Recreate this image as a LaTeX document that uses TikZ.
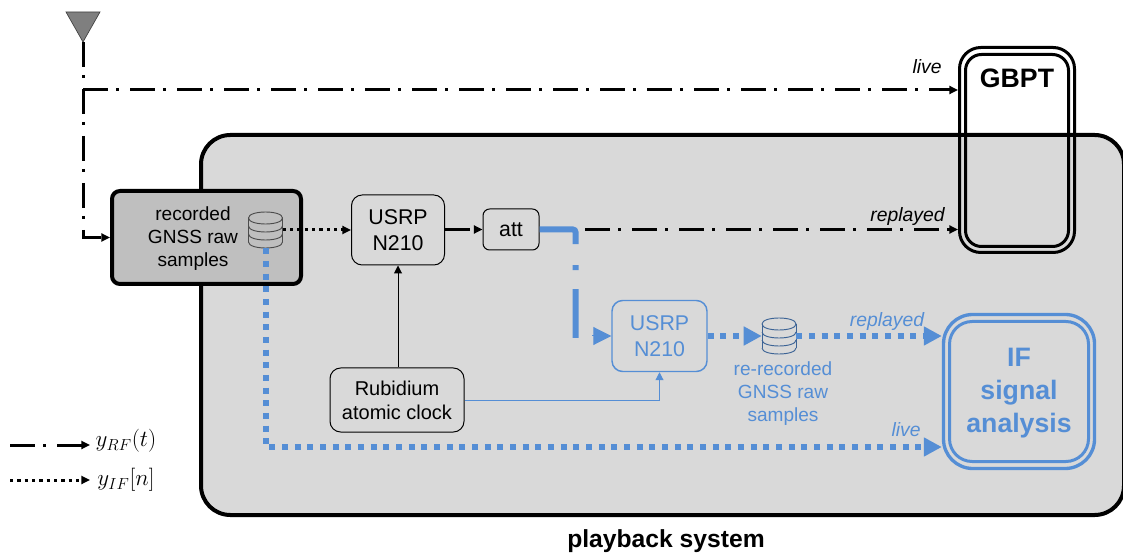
\documentclass[tikz,border=0pt]{standalone}
\usepackage{amsmath}
\usepackage{fontspec}
\usepackage{xcolor}
\usepackage{tikz}
\usetikzlibrary{arrows.meta}
\setmainfont{Liberation Sans}
\definecolor{sigblue}{HTML}{558ED5}
\definecolor{panelgray}{HTML}{D9D9D9}
\definecolor{storegray}{HTML}{BFBFBF}
\definecolor{antgray}{HTML}{7F7F7F}
\newcommand{\px}{0.75pt}
\tikzset{
    % Boxes
    panel/.style={rectangle, draw, line width=3pt, fill=panelgray, rounded corners=22pt, minimum width=923*\px, minimum height=380*\px},
    store/.style={rectangle, draw, line width=3pt, fill=storegray, rounded corners=6pt, align=center, minimum width=189*\px, minimum height=93*\px},
    device/.style={rectangle, draw, line width=0.75pt, fill=panelgray, align=center, font=\fontsize{16}{20}\selectfont},
    clock/.style={device, rounded corners=8pt, font=\fontsize{15}{18}\selectfont},
    sink/.style={rectangle, draw, line width=2.25pt, inner sep=0pt},
    % Text styles
    plain/.style={font=\fontsize{14.3}{17.25}\selectfont, align=center, inner sep=0pt},
    tag/.style={font=\fontsize{14.5}{17}\selectfont\itshape, inner sep=0pt},
    % Database icon
    dbnode/.style={rectangle, minimum width=34*\px, minimum height=36*\px, inner sep=0pt},
    database/.pic={
        \draw[line width=0.7pt, draw=#1] (-17,-12) -- (-17,12) (17,-12) -- (17,12);
        \draw[line width=0.7pt, draw=#1] (-17,-12) .. controls (-17,-20) and (17,-20) .. (17,-12);
        \foreach \y in {-12,-4,4,12} {
            \draw[line width=0.7pt, draw=#1] (-17,\y) .. controls (-17,\y+8) and (17,\y+8) .. (17,\y);
        }
    },
    % Connector styles
    rfline/.style={line width=2.25pt, dash pattern=on 18.75pt off 6pt on 2.5pt off 8pt, -{Triangle[length=6.5pt, width=6pt]}},
    ifline/.style={line width=2.25pt, dash pattern=on 2.5pt off 3pt, -{Triangle[length=6.5pt, width=6pt]}},
    blueif/.style={line width=4.5pt, sigblue, dash pattern=on 4.5pt off 5pt, -{Triangle[length=13.5pt, width=13.5pt]}},
    thinline/.style={line width=0.75pt, -{Triangle[length=6pt, width=6pt]}}
}
\begin{document}
\begin{tikzpicture}[x=0.75pt, y=-0.75pt]
\useasboundingbox (0,0) rectangle (1123,555);

% Playback system
\node[panel] (playback) at (662.5,325) {};
\node[font=\fontsize{18.5}{22}\selectfont\bfseries] (playname) at (666,541) {playback system};

% Antenna
\coordinate (ant) at (83,42);
\draw[line width=0.5pt, draw=black!75, fill=antgray] (66,12) -- (100,12) -- (ant) -- cycle;

% Recorded samples
\node[store] (recorded) at (206.5,237.5) {};
\node[plain] (rectext) at (193,239) {recorded\\GNSS raw\\samples};
\node[dbnode] (dbrec) at (265.5,230) {};
\pic at (dbrec.center) {database={black!70}};

% Devices
\node[device, rounded corners=8pt, minimum width=93*\px, minimum height=70*\px] (usrp) at (398,230) {USRP\\N210};
\node[device, rounded corners=5pt, minimum width=56*\px, minimum height=41*\px] (att) at (511,229.5) {att};
\node[clock, minimum width=134*\px, minimum height=64*\px] (rubidium) at (397,400) {Rubidium\\atomic clock};
\node[device, draw=sigblue, line width=1.1pt, text=sigblue, rounded corners=8pt, minimum width=95*\px, minimum height=71*\px] (usrpif) at (659.5,336) {USRP\\N210};
\node[dbnode] (dbif) at (779,336) {};
\pic at (dbif.center) {database={sigblue!70!black}};
\node[plain, text=sigblue] (rerec) at (783,394) {re-recorded\\GNSS raw\\samples};

% GBPT
\node[sink, rounded corners=16pt, minimum width=115*\px, minimum height=205*\px] (gbpt) at (1017,150) {};
\node[sink, rounded corners=12pt, minimum width=103*\px, minimum height=192*\px] (gbptin) at (1017,150.5) {};
\node[font=\fontsize{20}{24}\selectfont\bfseries] (gbptname) at (1017,78) {GBPT};

% IF signal analysis
\node[sink, draw=sigblue, line width=2.5pt, rounded corners=22pt, minimum width=151*\px, minimum height=154*\px] (ifbox) at (1019,391.5) {};
\node[sink, draw=sigblue, line width=2.25pt, rounded corners=17pt, minimum width=139*\px, minimum height=140*\px] (ifin) at (1019,391.5) {};
\node[font=\fontsize{20}{25}\selectfont\bfseries, text=sigblue, align=center] (ifname) at (1019,393) {IF\\signal\\analysis};

% Antenna paths
\coordinate (split) at (83,90);
\draw[rfline] (ant) |- (recorded.west);
\draw[rfline] (split) -- (split -| gbpt.west);

% Replay chain
\draw[ifline] (dbrec.east) -- (usrp.west);
\draw[rfline] (usrp.east |- att.west) -- (att.west);
\draw[thinline] (rubidium.north -| usrp.south) -- (usrp.south);
\draw[thinline, sigblue] (rubidium.east) -| (usrpif.south);
\coordinate (attout) at (585,229.5);
\draw[rfline] (attout) -- (attout -| gbpt.west);

% Re-recording chain
\coordinate (attbend) at (575.5,229.5);
\coordinate (attstop) at (575.5,338);
\coordinate (ifarrow) at (592,336);
\draw[line width=4.5pt, sigblue, rounded corners=2pt, dash pattern=on 37.1pt off 15.75pt on 3.75pt off 14.25pt on 38.25pt off 5pt] (att.east) -- (attbend) -- (attstop);
\draw[line width=0.75pt, sigblue, -{Triangle[length=13.5pt, width=13.5pt]}] (ifarrow) -- (usrpif.west);
\draw[blueif] (usrpif.east) -- (dbif.west);
\draw[blueif] (dbif.east) -- (dbif.east -| ifbox.west);
\coordinate (livebend) at (265.5,447);
\draw[blueif] (dbrec.south) -- (livebend) -- (livebend -| ifbox.west);

% Path labels
\node[tag] (liverf) at (927,67) {live};
\node[tag] (replayrf) at (907.5,217) {replayed};
\node[tag, text=sigblue] (replayif) at (887,322) {replayed};
\node[tag, text=sigblue] (liveif) at (906,430) {live};

% Legend
\node[inner sep=0pt, font=\fontsize{17}{20}\selectfont] (legrf) at (126,441) {$y_{RF}(t)$};
\node[inner sep=0pt, font=\fontsize{17}{20}\selectfont] (legif) at (126,480) {$y_{IF}[n]$};
\coordinate (legrfstart) at (10,445);
\coordinate (legifstart) at (10,480);
\draw[rfline] (legrfstart) -- (90,445);
\draw[ifline] (legifstart) -- (90,480);
\end{tikzpicture}
\end{document}
